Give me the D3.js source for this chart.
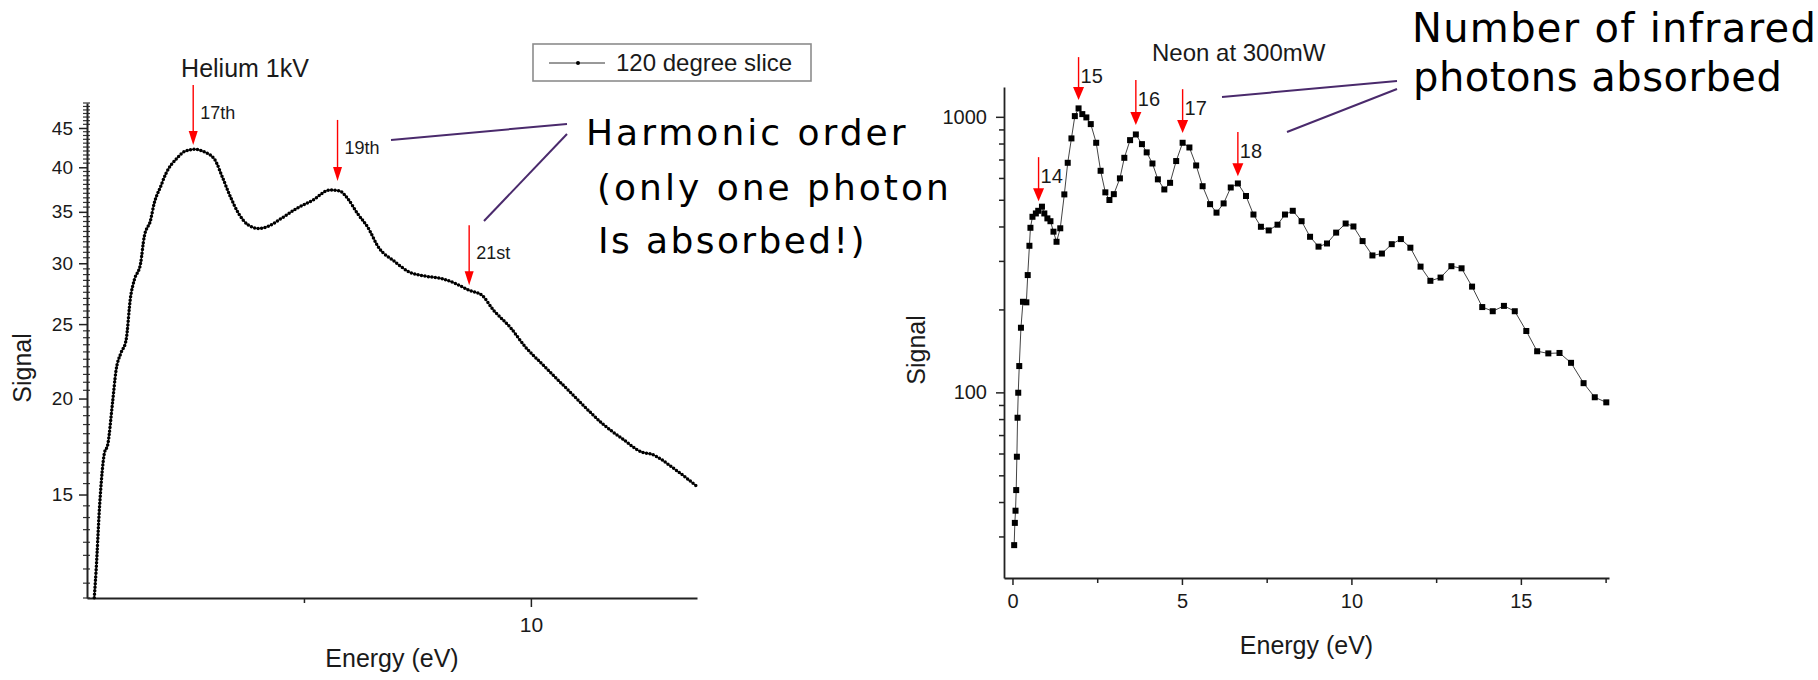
<!DOCTYPE html>
<html>
<head>
<meta charset="utf-8">
<script src="https://cdn.jsdelivr.net/npm/d3@7"></script>
<style>
  body { margin: 0; background: #fff; }
  svg { display: block; font-family: "Liberation Sans", Arial, sans-serif; }
  .note { font-family: "DejaVu Sans", Verdana, sans-serif; fill: #000; }
</style>
</head>
<body>
<svg id="chart" width="1818" height="680"></svg>
<script>
// Helium 1kV, 120 degree slice
const heliumEnergy = [5.19, 5.21, 5.25, 5.30, 5.34, 5.39, 5.43, 5.48, 5.54, 5.59, 5.63, 5.70, 5.74, 5.81,
  5.85, 5.92, 5.98, 6.10, 6.18, 6.29, 6.40, 6.52, 6.60, 6.69, 6.78, 6.89, 7.00, 7.11, 7.25, 7.42, 7.60,
  7.78, 7.89, 7.98, 8.09, 8.20, 8.33, 8.48, 8.66, 8.84, 9.02, 9.17, 9.32, 9.46, 9.59, 9.77, 9.94, 10.12,
  10.34, 10.56, 10.79, 11.01, 11.23, 11.32, 11.58, 11.82]
const heliumSignal = [11.01, 11.93, 14.58, 16.94, 17.46, 19.69, 21.76, 22.87, 23.81, 27.12, 28.51, 29.97,
  32.47, 34.13, 35.89, 37.73, 39.27, 41.09, 41.91, 42.21, 41.91, 40.88, 38.87, 36.61, 34.82, 33.63, 33.30,
  33.53, 34.31, 35.36, 36.25, 37.36, 37.28, 36.44, 34.82, 33.46, 31.36, 30.28, 29.23, 28.86, 28.65, 28.23,
  27.67, 27.26, 26.05, 24.78, 23.34, 22.20, 20.91, 19.69, 18.54, 17.72, 17.02, 16.94, 16.20, 15.40]

// Neon at 300mW
const neonEnergy = [0.05, 0.07, 0.09, 0.11, 0.13, 0.15, 0.17, 0.20, 0.25, 0.31, 0.41, 0.45, 0.50, 0.53,
  0.59, 0.69, 0.76, 0.87, 0.94, 1.03, 1.12, 1.21, 1.30, 1.41, 1.53, 1.63, 1.74, 1.84, 1.95, 2.06, 2.18,
  2.31, 2.47, 2.60, 2.74, 2.86, 2.99, 3.17, 3.30, 3.47, 3.64, 3.82, 3.96, 4.13, 4.29, 4.48, 4.65, 4.83,
  5.02, 5.22, 5.42, 5.61, 5.83, 6.02, 6.23, 6.44, 6.65, 6.89, 7.11, 7.33, 7.56, 7.82, 8.04, 8.27, 8.53,
  8.78, 9.03, 9.28, 9.55, 9.83, 10.06, 10.33, 10.62, 10.90, 11.19, 11.46, 11.74, 12.04, 12.33, 12.63,
  12.95, 13.25, 13.56, 13.86, 14.17, 14.50, 14.82, 15.16, 15.48, 15.81, 16.14, 16.48, 16.85, 17.18, 17.52]
const neonSignal = [27.9, 33.6, 37.2, 44.2, 58.4, 80.9, 99.7, 124.6, 171.6, 213.2, 212.2, 266.5, 340.4,
  395.6, 433.7, 446, 456, 472, 446, 428, 418, 383, 352, 394, 523, 681, 835, 1006, 1073, 1023, 995, 941,
  805, 637, 532, 499, 524, 598, 710, 823, 863, 796, 743, 677, 593, 545, 576, 691, 805, 774, 666, 560,
  482, 449, 485, 554, 573, 516, 442, 399, 387, 406, 442, 456, 418, 367, 338, 347, 380, 410, 400, 354,
  314, 319, 345, 360, 335, 286, 254, 261, 287, 282, 242, 204, 197, 206, 197, 167, 141, 138.5, 139, 128,
  108, 96, 92]

// ticks
const heliumXTicks = [10]
const heliumXMinor = [7.5]
const heliumYTicks = [15, 20, 25, 30, 35, 40, 45]
const neonXTicks = [0, 5, 10, 15]
const neonXMinor = [2.5, 7.5, 12.5, 17.5]
const neonYTicks = [100, 1000]
const neonYMinor = [30, 40, 50, 60, 70, 80, 90, 200, 300, 400, 500, 600, 700, 800, 900]

// harmonic / photon markers: energy, signal at arrow tip, signal at arrow top
const heliumOrders = ["17th", "19th", "21st"]
const heliumOrderEnergy = [6.28, 7.87, 9.32]
const heliumOrderTip = [42.76, 38.38, 28.08]
const heliumOrderTop = [51.2, 46.1, 33.63]
const neonOrders = ["14", "15", "16", "17", "18"]
const neonOrderEnergy = [0.77, 1.95, 3.64, 5.02, 6.65]
const neonOrderTip = [494, 1150, 933, 873, 609]
const neonOrderTop = [714, 1647, 1359, 1260, 880]

const svg = d3.select("#chart")
const red = "#ff0000"
const purple = "#4a2a6c"

const he = {left: 87, right: 697, top: 103, bottom: 598}
const ne = {left: 1004, right: 1609, top: 87, bottom: 578}

const xHe = d3.scaleLinear().domain([5.11, 11.83]).range([he.left, he.right])
const yHe = d3.scaleLog().domain([11, 48.5]).range([he.bottom, he.top])
const xNe = d3.scaleLinear().domain([-0.25, 17.6]).range([ne.left, ne.right])
const yNe = d3.scaleLog().domain([21.2, 1283]).range([ne.bottom, ne.top])

const styleAxis = (g, size) => {
  g.attr("font-family", null).attr("font-size", size)
  g.selectAll("text").attr("fill", "#1a1a1a")
  g.selectAll("line").attr("stroke", "#222").attr("stroke-width", 1.5)
}

// ---------- Helium chart ----------
const heG = svg.append("g")

heG.append("g")
  .attr("transform", `translate(0,${he.bottom})`)
  .call(d3.axisBottom(xHe).tickValues(heliumXMinor).tickSize(5).tickFormat("").tickSizeOuter(0))
  .call(g => g.select(".domain").remove())
  .call(g => styleAxis(g, 20))

heG.append("g")
  .attr("transform", `translate(0,${he.bottom})`)
  .call(d3.axisBottom(xHe).tickValues(heliumXTicks).tickFormat(d3.format("d")).tickSize(9).tickPadding(10).tickSizeOuter(0))
  .call(g => g.select(".domain").attr("stroke", "#222").attr("stroke-width", 2))
  .call(g => styleAxis(g, 21))

const heYMinor = d3.range(11, 48.6, 0.5).filter(v => v % 5 !== 0)
heG.append("g")
  .selectAll("line")
  .data(heYMinor)
  .enter().append("line")
  .attr("x1", he.left - 4)
  .attr("x2", he.left + 3)
  .attr("y1", d => yHe(d))
  .attr("y2", d => yHe(d))
  .attr("stroke", "#333")
  .attr("stroke-width", 1.2)

heG.append("g")
  .attr("transform", `translate(${he.left},0)`)
  .call(d3.axisLeft(yHe).tickValues(heliumYTicks).tickFormat(d3.format("d")).tickSize(8).tickPadding(6).tickSizeOuter(0))
  .call(g => g.select(".domain").attr("stroke", "#222").attr("stroke-width", 2))
  .call(g => styleAxis(g, 19))

heG.append("text")
  .text("Energy (eV)")
  .attr("x", (he.left + he.right) / 2)
  .attr("y", 667)
  .attr("text-anchor", "middle")
  .attr("font-size", 25)
  .attr("fill", "#1a1a1a")

heG.append("text")
  .text("Signal")
  .attr("transform", "translate(31,368) rotate(-90)")
  .attr("text-anchor", "middle")
  .attr("font-size", 25)
  .attr("fill", "#1a1a1a")

heG.append("text")
  .text("Helium 1kV")
  .attr("x", 245)
  .attr("y", 77)
  .attr("text-anchor", "middle")
  .attr("font-size", 25)
  .attr("fill", "#1a1a1a")

const heLine = d3.line()
  .x((d, i) => xHe(heliumEnergy[i]))
  .y(d => yHe(d))
  .curve(d3.curveMonotoneX)

heG.append("path")
  .attr("d", heLine(heliumSignal))
  .attr("fill", "none")
  .attr("stroke", "#000")
  .attr("stroke-width", 1)

// the dense point markers of the original trace
heG.append("path")
  .attr("d", heLine(heliumSignal))
  .attr("fill", "none")
  .attr("stroke", "#000")
  .attr("stroke-width", 3.5)
  .attr("stroke-linecap", "round")
  .attr("stroke-dasharray", "0 3.5")

// legend
const legend = heG.append("g")
legend.append("rect")
  .attr("x", 533).attr("y", 44).attr("width", 278).attr("height", 37)
  .attr("fill", "#fff").attr("stroke", "#8c8c8c").attr("stroke-width", 1.6)
legend.append("line")
  .attr("x1", 549).attr("x2", 605).attr("y1", 63).attr("y2", 63)
  .attr("stroke", "#333").attr("stroke-width", 1)
legend.append("circle")
  .attr("cx", 578).attr("cy", 63).attr("r", 2).attr("fill", "#000")
legend.append("text")
  .text("120 degree slice")
  .attr("x", 616).attr("y", 71)
  .attr("font-size", 24)
  .attr("fill", "#1a1a1a")

// ---------- Neon chart ----------
const neG = svg.append("g")

neG.append("g")
  .attr("transform", `translate(0,${ne.bottom})`)
  .call(d3.axisBottom(xNe).tickValues(neonXMinor).tickSize(5).tickFormat("").tickSizeOuter(0))
  .call(g => g.select(".domain").remove())
  .call(g => styleAxis(g, 20))

neG.append("g")
  .attr("transform", `translate(0,${ne.bottom})`)
  .call(d3.axisBottom(xNe).tickValues(neonXTicks).tickSize(7).tickPadding(9).tickSizeOuter(0))
  .call(g => g.select(".domain").attr("stroke", "#222").attr("stroke-width", 1.8))
  .call(g => styleAxis(g, 20))

neG.append("g")
  .attr("transform", `translate(${ne.left},0)`)
  .call(d3.axisLeft(yNe).tickValues(neonYMinor).tickSize(5).tickFormat("").tickSizeOuter(0))
  .call(g => g.select(".domain").remove())
  .call(g => styleAxis(g, 20))

neG.append("g")
  .attr("transform", `translate(${ne.left},0)`)
  .call(d3.axisLeft(yNe).tickValues(neonYTicks).tickFormat(d3.format("d")).tickSize(8).tickPadding(9).tickSizeOuter(0))
  .call(g => g.select(".domain").attr("stroke", "#222").attr("stroke-width", 1.8))
  .call(g => styleAxis(g, 20))

neG.append("text")
  .text("Energy (eV)")
  .attr("x", (ne.left + ne.right) / 2)
  .attr("y", 654)
  .attr("text-anchor", "middle")
  .attr("font-size", 25)
  .attr("fill", "#1a1a1a")

neG.append("text")
  .text("Signal")
  .attr("transform", "translate(925,350) rotate(-90)")
  .attr("text-anchor", "middle")
  .attr("font-size", 25)
  .attr("fill", "#1a1a1a")

neG.append("text")
  .text("Neon at 300mW")
  .attr("x", 1152)
  .attr("y", 61)
  .attr("font-size", 24)
  .attr("fill", "#1a1a1a")

const neLine = d3.line()
  .x((d, i) => xNe(neonEnergy[i]))
  .y(d => yNe(d))

neG.append("path")
  .attr("d", neLine(neonSignal))
  .attr("fill", "none")
  .attr("stroke", "#444")
  .attr("stroke-width", 1)

neG.append("g")
  .selectAll("rect")
  .data(neonSignal)
  .enter().append("rect")
  .attr("x", (d, i) => xNe(neonEnergy[i]) - 3)
  .attr("y", d => yNe(d) - 3)
  .attr("width", 6)
  .attr("height", 6)
  .attr("fill", "#000")

// ---------- arrows ----------
function drawArrows(g, labels, xs, tips, tops, x, y, head, labelSize, dx, dy) {
  const rows = g.append("g")
    .selectAll("g")
    .data(labels)
    .enter().append("g")

  rows.append("line")
    .attr("x1", (d, i) => x(xs[i]))
    .attr("x2", (d, i) => x(xs[i]))
    .attr("y1", (d, i) => y(tops[i]))
    .attr("y2", (d, i) => y(tips[i]) - head.h + 1)
    .attr("stroke", red)
    .attr("stroke-width", 1.4)

  rows.append("path")
    .attr("d", (d, i) => {
      const px = x(xs[i]), py = y(tips[i])
      return `M${px - head.w / 2},${py - head.h}L${px + head.w / 2},${py - head.h}L${px},${py}Z`
    })
    .attr("fill", red)

  rows.append("text")
    .text(d => d)
    .attr("x", (d, i) => x(xs[i]) + dx)
    .attr("y", (d, i) => y(tops[i]) + dy)
    .attr("font-size", labelSize)
    .attr("fill", "#1a1a1a")
}

drawArrows(heG, heliumOrders, heliumOrderEnergy, heliumOrderTip, heliumOrderTop, xHe, yHe, {w: 9, h: 14}, 18, 7, 34)
drawArrows(neG, neonOrders, neonOrderEnergy, neonOrderTip, neonOrderTop, xNe, yNe, {w: 11, h: 13}, 20, 2, 26)

// ---------- slide notes ----------
const connectors = [
  [391, 140, 567, 124], [484, 221, 567, 134],
  [1222, 97, 1397, 81], [1287, 132, 1397, 89]
]
svg.append("g")
  .selectAll("line")
  .data(connectors)
  .enter().append("line")
  .attr("x1", d => d[0]).attr("y1", d => d[1])
  .attr("x2", d => d[2]).attr("y2", d => d[3])
  .attr("stroke", purple)
  .attr("stroke-width", 2)

const notes = [
  {text: "Harmonic order", x: 586, y: 145, size: 36, spacing: 3},
  {text: "(only one photon", x: 597, y: 200, size: 36, spacing: 3},
  {text: "Is absorbed!)", x: 598, y: 253, size: 36, spacing: 2.4},
  {text: "Number of infrared", x: 1412, y: 42, size: 40, spacing: 1.3},
  {text: "photons absorbed", x: 1413, y: 91, size: 40, spacing: 0.5}
]
svg.append("g")
  .selectAll("text")
  .data(notes)
  .enter().append("text")
  .attr("class", "note")
  .text(d => d.text)
  .attr("x", d => d.x)
  .attr("y", d => d.y)
  .attr("font-size", d => d.size)
  .attr("letter-spacing", d => d.spacing)
</script>
</body>
</html>
